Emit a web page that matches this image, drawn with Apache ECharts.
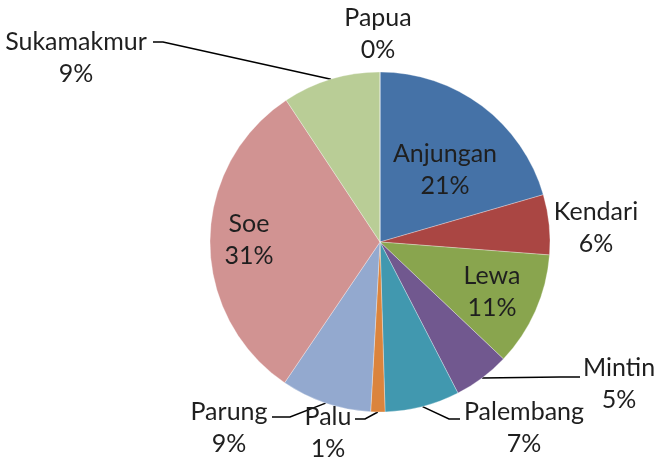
<!DOCTYPE html>
<html><head><meta charset="utf-8">
<script src="https://cdn.jsdelivr.net/npm/echarts@6/dist/echarts.min.js"></script>
<style>html,body{margin:0;padding:0;background:#fff}#c{width:657px;height:458px}</style>
</head><body><div id="c"></div>
<script>
const categories = ['Anjungan','Kendari','Lewa','Mintin','Palembang','Palu','Parung','Soe','Sukamakmur','Papua'];
const values = [20.5, 5.7, 10.85, 5.35, 7.1, 1.35, 8.6, 31.2, 9.3, 0];
const colors = ['#4572A7','#AA4643','#89A54E','#71588F','#4198AF','#DB843D','#93A9CF','#D19392','#B9CD96','#A99BBD'];

// label anchors (block centres) and leader-line elbows, layout only
const labelPos = {
  Anjungan:[445,170], Kendari:[596,228], Lewa:[492,292], Mintin:[619,384],
  Palembang:[524,428], Palu:[328,433], Parung:[229,428], Soe:[249,240],
  Sukamakmur:[76,58], Papua:[378,34]
};
const leader = {
  Mintin:[[560,377],[580,377]],
  Palembang:[[449,419],[460,419]],
  Palu:[[365,419],[355,419]],
  Parung:[[290,417],[272,417]],
  Sukamakmur:[[163,42],[153,42]]
};
const CX = 380, CY = 242, R = 170;
const total = values.reduce((a,b)=>a+b,0);
function edgePoint(i){
  let before = 0; for (let k=0;k<i;k++) before += values[k];
  const mid = (before + values[i]/2)/total*2*Math.PI;
  return [CX + R*Math.sin(mid), CY - R*Math.cos(mid)];
}

const chart = echarts.init(document.getElementById('c'), null, {renderer:'canvas'});
chart.setOption({
  animation:false,
  color: colors,
  series:[{
    type:'pie',
    center:[CX,CY],
    radius:[0,R],
    startAngle:90,
    clockwise:true,
    stillShowZeroSum:true,
    minShowLabelAngle:0,
    avoidLabelOverlap:false,
    itemStyle:{borderColor:'rgba(255,255,255,0.5)',borderWidth:0.6},
    label:{
      show:true,
      position:'outside',
      fontFamily:'Lato',
      fontSize:25,
      lineHeight:32,
      color:'#1f1f1f',
      align:'center',
      formatter:function(p){return p.name + '\n' + Math.round(p.percent) + '%';}
    },
    labelLine:{show:true,lineStyle:{color:'#000',width:1.5},smooth:false},
    emphasis:{disabled:true},
    data: categories.map((n,i)=>({
      name:n, value:values[i],
      labelLine:{show: !!leader[n]}
    })),
    labelLayout:function(p){
      const n = categories[p.dataIndex];
      const pos = labelPos[n];
      const out = {x:pos[0], y:pos[1], align:'center', verticalAlign:'middle'};
      if (leader[n]) {
        out.labelLinePoints = [edgePoint(p.dataIndex), leader[n][0], leader[n][1]];
      }
      return out;
    }
  }]
});
</script></body></html>
